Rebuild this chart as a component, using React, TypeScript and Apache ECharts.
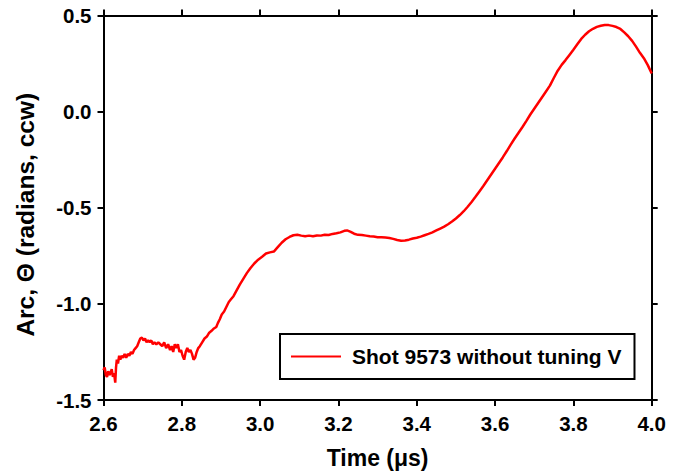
import React, { useEffect, useRef } from "react";
import * as echarts from "echarts";

const seriesName = "Shot 9573 without tuning V";
const xTickValues = [2.6, 2.8, 3.0, 3.2, 3.4, 3.6, 3.8, 4.0];
const yTickValues = [-1.5, -1.0, -0.5, 0.0, 0.5];

const timeUs = [
  2.600, 2.603, 2.606, 2.609, 2.612, 2.615, 2.618, 2.621, 2.624, 2.627,
  2.630, 2.632, 2.634, 2.637, 2.640, 2.643, 2.646, 2.650, 2.654, 2.658,
  2.662, 2.666, 2.670, 2.674, 2.678, 2.682, 2.686, 2.690, 2.694, 2.698,
  2.702, 2.706, 2.710, 2.714, 2.718, 2.722, 2.726, 2.730, 2.735, 2.740,
  2.745, 2.750, 2.755, 2.760, 2.765, 2.770, 2.774, 2.778, 2.782, 2.786,
  2.790, 2.794, 2.798, 2.802, 2.806, 2.810, 2.814, 2.818, 2.822, 2.826,
  2.830, 2.834, 2.838, 2.842, 2.846, 2.852, 2.858, 2.864, 2.870, 2.876,
  2.882, 2.888, 2.892, 2.897, 2.902, 2.908, 2.914, 2.920, 2.926, 2.932,
  2.940, 2.948, 2.957, 2.966, 2.975, 2.985, 2.995, 3.005, 3.015, 3.025,
  3.035, 3.045, 3.055, 3.065, 3.075, 3.085, 3.095, 3.105, 3.115, 3.125,
  3.135, 3.145, 3.155, 3.165, 3.175, 3.185, 3.195, 3.205, 3.215, 3.222,
  3.230, 3.240, 3.250, 3.260, 3.270, 3.280, 3.290, 3.300, 3.310, 3.320,
  3.330, 3.340, 3.350, 3.360, 3.370, 3.380, 3.390, 3.400, 3.410, 3.420,
  3.430, 3.440, 3.450, 3.460, 3.470, 3.480, 3.490, 3.500, 3.510, 3.520,
  3.530, 3.540, 3.550, 3.560, 3.570, 3.580, 3.590, 3.600, 3.610, 3.620,
  3.630, 3.640, 3.650, 3.660, 3.670, 3.680, 3.690, 3.700, 3.710, 3.720,
  3.730, 3.740, 3.750, 3.760, 3.770, 3.780, 3.790, 3.800, 3.810, 3.820,
  3.830, 3.840, 3.850, 3.860, 3.870, 3.880, 3.890, 3.900, 3.910, 3.920,
  3.930, 3.940, 3.950, 3.960, 3.970, 3.980, 3.990, 4.000,
];

const arcRad = [
  -1.345, -1.33, -1.37, -1.38, -1.35, -1.37, -1.36, -1.34, -1.38, -1.36,
  -1.41, -1.33, -1.29, -1.31, -1.27, -1.29, -1.27, -1.28, -1.26, -1.28,
  -1.26, -1.27, -1.25, -1.26, -1.24, -1.23, -1.22, -1.20, -1.18, -1.175,
  -1.19, -1.18, -1.20, -1.19, -1.20, -1.19, -1.21, -1.20, -1.21, -1.20,
  -1.21, -1.22, -1.20, -1.23, -1.21, -1.24, -1.22, -1.25, -1.21, -1.23,
  -1.21, -1.25, -1.24, -1.27, -1.29, -1.25, -1.23, -1.25, -1.24, -1.26,
  -1.29, -1.28, -1.25, -1.23, -1.22, -1.20, -1.18, -1.17, -1.15, -1.14,
  -1.128, -1.12, -1.10, -1.08, -1.055, -1.04, -1.015, -0.99, -0.975, -0.96,
  -0.93, -0.90, -0.87, -0.84, -0.815, -0.79, -0.77, -0.755, -0.738, -0.732,
  -0.728, -0.705, -0.682, -0.664, -0.652, -0.643, -0.64, -0.645, -0.648, -0.645,
  -0.648, -0.644, -0.645, -0.64, -0.642, -0.636, -0.633, -0.628, -0.62, -0.618,
  -0.624, -0.635, -0.641, -0.642, -0.645, -0.648, -0.650, -0.653, -0.654, -0.655,
  -0.657, -0.662, -0.668, -0.672, -0.670, -0.666, -0.660, -0.656, -0.650, -0.643,
  -0.636, -0.628, -0.618, -0.608, -0.598, -0.586, -0.572, -0.556, -0.538, -0.518,
  -0.495, -0.470, -0.443, -0.415, -0.387, -0.357, -0.327, -0.297, -0.267, -0.237,
  -0.205, -0.172, -0.140, -0.110, -0.080, -0.048, -0.015, 0.015, 0.045, 0.075,
  0.105, 0.135, 0.175, 0.213, 0.243, 0.268, 0.295, 0.322, 0.350, 0.378,
  0.400, 0.418, 0.431, 0.441, 0.447, 0.451, 0.450, 0.446, 0.440, 0.430,
  0.412, 0.392, 0.368, 0.338, 0.306, 0.278, 0.242, 0.198,
];

const FONT = "'Liberation Sans', Arial, sans-serif";

export default function App() {
  const ref = useRef<HTMLDivElement>(null);

  useEffect(() => {
    if (!ref.current) return;
    const chart = echarts.init(ref.current, undefined, { renderer: "svg" });
    const data = timeUs.map((t, i) => [t, arcRad[i]]);
    const axisLine = { show: true, onZero: false, lineStyle: { color: "#000", width: 2 } };
    const tick = { show: true, inside: false, length: 6, lineStyle: { color: "#000", width: 2 } };
    const xMin = xTickValues[0];
    const xMax = xTickValues[xTickValues.length - 1];
    const yMin = yTickValues[0];
    const yMax = yTickValues[yTickValues.length - 1];
    chart.setOption({
      animation: false,
      backgroundColor: "#fff",
      textStyle: { fontFamily: FONT },
      grid: { left: 103.5, right: 29.3, top: 15.5, bottom: 75 },
      legend: {
        show: true,
        left: 280,
        top: 334,
        orient: "horizontal",
        backgroundColor: "#fff",
        borderColor: "#000",
        borderWidth: 2,
        borderRadius: 0,
        padding: [12, 13, 12, 11],
        itemWidth: 50,
        itemHeight: 14,
        textStyle: {
          fontFamily: FONT,
          fontWeight: "bold",
          fontSize: 21,
          color: "#000",
          padding: [0, 0, 0, 6],
        },
        data: [{ name: seriesName, icon: "path://M0,6 L50,6 L50,8 L0,8 Z" }],
      },
      xAxis: [
        {
          type: "value",
          position: "bottom",
          min: xMin,
          max: xMax,
          interval: 0.2,
          axisLine,
          axisTick: tick,
          splitLine: { show: false },
          axisLabel: {
            margin: 13,
            fontFamily: FONT,
            fontWeight: "bold",
            fontSize: 20.5,
            color: "#000",
            formatter: (v: number) => v.toFixed(1),
          },
          name: "Time (\u03bcs)",
          nameLocation: "middle",
          nameGap: 46,
          nameTextStyle: { fontFamily: FONT, fontWeight: "bold", fontSize: 23, color: "#000" },
        },
        {
          type: "value",
          position: "top",
          min: xMin,
          max: xMax,
          interval: 0.2,
          axisLine,
          axisTick: tick,
          axisLabel: { show: false },
          splitLine: { show: false },
        },
      ],
      yAxis: [
        {
          type: "value",
          position: "left",
          min: yMin,
          max: yMax,
          interval: 0.5,
          axisLine,
          axisTick: tick,
          splitLine: { show: false },
          axisLabel: {
            margin: 12,
            fontFamily: FONT,
            fontWeight: "bold",
            fontSize: 20.5,
            color: "#000",
            formatter: (v: number) => v.toFixed(1),
          },
          name: "Arc, \u0398 (radians, ccw)",
          nameLocation: "middle",
          nameGap: 66,
          nameTextStyle: {
            fontFamily: FONT,
            fontWeight: "bold",
            fontSize: 24.5,
            color: "#000",
            padding: [0, 14, 0, 0],
          },
        },
        {
          type: "value",
          position: "right",
          min: yMin,
          max: yMax,
          interval: 0.5,
          axisLine,
          axisTick: tick,
          axisLabel: { show: false },
          splitLine: { show: false },
        },
      ],
      series: [
        {
          name: seriesName,
          type: "line",
          data,
          symbol: "none",
          showSymbol: false,
          clip: true,
          lineStyle: { color: "#ff0000", width: 2.5 },
          itemStyle: { color: "#ff0000" },
        },
      ],
    });
    return () => chart.dispose();
  }, []);

  return (
    <div
      ref={ref}
      style={{ position: "fixed", left: 0, top: 0, width: 681, height: 475 }}
    />
  );
}
